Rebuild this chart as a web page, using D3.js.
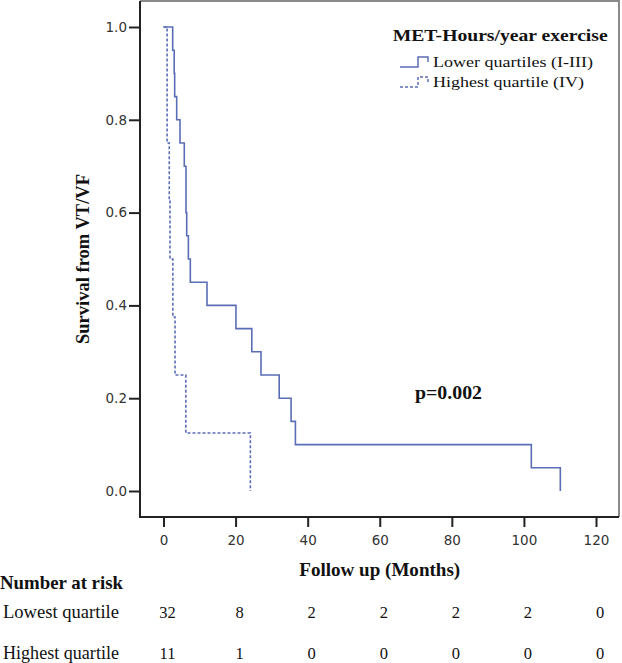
<!DOCTYPE html>
<html>
<head>
<meta charset="utf-8">
<script src="https://cdn.jsdelivr.net/npm/d3@7"></script>
<style>
  html, body { margin: 0; padding: 0; background: #fff; }
  svg { display: block; }
</style>
</head>
<body>
<svg id="chart" width="622" height="663"></svg>
<script>
// ---------------- data ----------------
const legendTitle = "MET-Hours/year exercise";
const seriesNames = ["Lower quartiles (I-III)", "Highest quartile (IV)"];

// Kaplan-Meier steps: time (months) and survival after the event
const lowerTimes = [0, 2.55, 2.97, 3.1, 3.66, 4.58, 5.77, 6.24, 6.44, 6.9, 7.44, 12.07, 20.1, 24.5, 27.05, 32.1, 35.4, 36.6, 102.05, 110.1];
const lowerSurv  = [1.0, 0.95, 0.9, 0.85, 0.8, 0.75, 0.7, 0.6, 0.55, 0.5, 0.45, 0.4, 0.35, 0.3, 0.25, 0.2, 0.15, 0.1, 0.05, 0.0];

const highTimes = [0, 1.0, 1.6, 1.8, 2.6, 3.2, 6.2, 24.1];
const highSurv  = [1.0, 0.75, 0.625, 0.5, 0.375, 0.25, 0.125, 0.0];

const xTicks = [0, 20, 40, 60, 80, 100, 120];
const yTicks = [0.0, 0.2, 0.4, 0.6, 0.8, 1.0];

const xTitle = "Follow up (Months)";
const yTitle = "Survival from VT/VF";
const pValueLabel = "p=0.002";

const riskTitle = "Number at risk";
const riskRowNames = ["Lowest quartile", "Highest quartile"];
const riskTimes = [0, 20, 40, 60, 80, 100, 120];
const riskLowest  = [32, 8, 2, 2, 2, 2, 0];
const riskHighest = [11, 1, 0, 0, 0, 0, 0];

// ---------------- drawing ----------------
const svg = d3.select("#chart");
const SERIF = "'Liberation Serif', 'DejaVu Serif', serif";
const SANS = "'DejaVu Sans', Verdana, sans-serif";
const lineColor = "#5b6db6";

const x = d3.scaleLinear().domain([0, 120]).range([163.5, 596]);
const y = d3.scaleLinear().domain([0, 1]).range([491, 27]);

const frame = { left: 140, top: 1, right: 619, bottom: 517 };

function fit(sel, w) {
  const cur = sel.node().getComputedTextLength();
  const fs = parseFloat(sel.attr("font-size"));
  if (cur > 0) sel.attr("font-size", (fs * w / cur).toFixed(2));
  return sel;
}
function stretch(sel, w) {
  sel.attr("textLength", w).attr("lengthAdjust", "spacingAndGlyphs");
  return sel;
}

// frame (top/right gray)
svg.append("path")
  .attr("d", `M${frame.left},${frame.top}H${frame.right}V${frame.bottom}`)
  .attr("fill", "none").attr("stroke", "#8a8a8a").attr("stroke-width", 2);

// axes
const gx = svg.append("g").attr("transform", `translate(0,${frame.bottom})`)
  .call(d3.axisBottom(x).tickValues(xTicks).tickFormat(d3.format("d")).tickSize(10).tickPadding(8));
const gy = svg.append("g").attr("transform", `translate(${frame.left},0)`)
  .call(d3.axisLeft(y).tickValues(yTicks).tickFormat(d3.format(".1f")).tickSize(11).tickPadding(2));
[gx, gy].forEach(g => {
  g.select(".domain").remove();
  g.selectAll(".tick line").attr("stroke", "#222").attr("stroke-width", 2);
  g.selectAll(".tick text").attr("font-family", SANS).attr("font-size", 13.5).attr("fill", "#333");
});
// axis lines
svg.append("path")
  .attr("d", `M${frame.left},${frame.top}V${frame.bottom}H${frame.right}`)
  .attr("fill", "none").attr("stroke", "#222").attr("stroke-width", 2);

// curves
const line = d3.line().x(d => x(d[0])).y(d => y(d[1])).curve(d3.curveStepAfter);
const lowerPts = lowerTimes.map((t, i) => [t, lowerSurv[i]]);
const highPts = highTimes.map((t, i) => [t, highSurv[i]]);

svg.append("path").datum(lowerPts).attr("d", line)
  .attr("fill", "none").attr("stroke", lineColor).attr("stroke-width", 1.6);
svg.append("path").datum(highPts).attr("d", line)
  .attr("fill", "none").attr("stroke", lineColor).attr("stroke-width", 1.6)
  .attr("stroke-dasharray", "3,2");

// legend
stretch(svg.append("text").attr("x", 392.7).attr("y", 41).text(legendTitle)
  .attr("font-family", SERIF).attr("font-weight", "bold").attr("font-size", 16).attr("fill", "#111"), 215);

const legendRows = [
  { name: seriesNames[0], dash: null, yb: 67, w: 160 },
  { name: seriesNames[1], dash: "3,2", yb: 87, w: 151 }
];
legendRows.forEach(r => {
  svg.append("path")
    .attr("d", `M400,${r.yb}H418V${r.yb - 10}H428V${r.yb - 5}`)
    .attr("fill", "none").attr("stroke", lineColor).attr("stroke-width", 1.5)
    .attr("stroke-dasharray", r.dash);
  stretch(svg.append("text").attr("x", 433).attr("y", r.yb).text(r.name)
    .attr("font-family", SERIF).attr("font-size", 15.5).attr("fill", "#111"), r.w);
});

// p value
fit(svg.append("text").attr("x", 415).attr("y", 399).text(pValueLabel)
  .attr("font-family", SERIF).attr("font-weight", "bold").attr("font-size", 16).attr("fill", "#111"), 67);

// axis titles
fit(svg.append("text").attr("x", x(60)).attr("y", 576).attr("text-anchor", "middle").text(xTitle)
  .attr("font-family", SERIF).attr("font-weight", "bold").attr("font-size", 16).attr("fill", "#111"), 161);
fit(svg.append("text").attr("transform", `translate(89,${y(0.5)}) rotate(-90)`).attr("text-anchor", "middle").text(yTitle)
  .attr("font-family", SERIF).attr("font-weight", "bold").attr("font-size", 16).attr("fill", "#111"), 170);

// number at risk table
fit(svg.append("text").attr("x", 0).attr("y", 589).text(riskTitle)
  .attr("font-family", SERIF).attr("font-weight", "bold").attr("font-size", 16).attr("fill", "#111"), 123);

const rows = [
  { name: riskRowNames[0], vals: riskLowest, yb: 618 },
  { name: riskRowNames[1], vals: riskHighest, yb: 659 }
];
rows.forEach(r => {
  fit(svg.append("text").attr("x", 3).attr("y", r.yb).text(r.name)
    .attr("font-family", SERIF).attr("font-size", 16).attr("fill", "#111"), 116);
  svg.append("g").selectAll("text").data(r.vals).join("text")
    .attr("x", (d, i) => x(riskTimes[i]) + 4)
    .attr("y", r.yb)
    .attr("text-anchor", "middle")
    .attr("font-family", SERIF).attr("font-size", 16.5).attr("fill", "#111")
    .text(d => d);
});
</script>
</body>
</html>
